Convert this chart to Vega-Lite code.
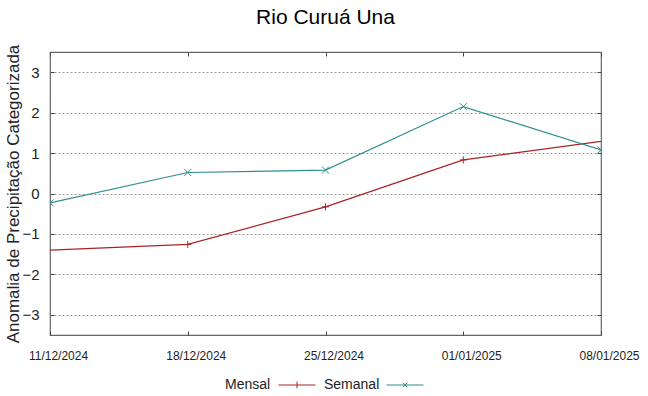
{
  "$schema": "https://vega.github.io/schema/vega-lite/v6.json",
  "autosize": "none",
  "width": 551,
  "height": 283,
  "padding": {"left": 50, "top": 52, "right": 47, "bottom": 61},
  "background": "white",
  "title": {
    "text": "Rio Curuá Una",
    "font": "Liberation Sans",
    "fontSize": 21,
    "fontWeight": "normal",
    "color": "#000",
    "anchor": "middle",
    "offset": 16
  },
  "data": {
    "values": [
      {"data": "2024-12-04", "serie": "Mensal", "valor": -1.54},
      {"data": "2024-12-18", "serie": "Mensal", "valor": -1.26},
      {"data": "2024-12-25", "serie": "Mensal", "valor": -0.33},
      {"data": "2025-01-01", "serie": "Mensal", "valor": 0.83},
      {"data": "2025-01-15", "serie": "Mensal", "valor": 1.75},
      {"data": "2024-12-11", "serie": "Semanal", "valor": -0.23},
      {"data": "2024-12-18", "serie": "Semanal", "valor": 0.52},
      {"data": "2024-12-25", "serie": "Semanal", "valor": 0.58},
      {"data": "2025-01-01", "serie": "Semanal", "valor": 2.15},
      {"data": "2025-01-08", "serie": "Semanal", "valor": 1.08}
    ]
  },
  "layer": [
    {
      "mark": {"type": "line", "clip": true, "strokeWidth": 1.2},
      "encoding": {
        "x": {
          "field": "data", "type": "temporal",
          "scale": {"type": "utc", "domain": [{"year": 2024, "month": 12, "date": 11, "utc": true}, {"year": 2025, "month": 1, "date": 8, "utc": true}], "nice": false},
          "axis": {
            "orient": "bottom", "title": null,
            "labelExpr": "utcFormat(datum.value, '%d/%m/%Y')",
            "values": [{"year": 2024, "month": 12, "date": 11, "utc": true}, {"year": 2024, "month": 12, "date": 18, "utc": true}, {"year": 2024, "month": 12, "date": 25, "utc": true}, {"year": 2025, "month": 1, "date": 1, "utc": true}, {"year": 2025, "month": 1, "date": 8, "utc": true}],
            "grid": false, "domain": false, "tickSize": -4, "tickColor": "#444", "tickWidth": 1,
            "labelFont": "Liberation Sans", "labelFontSize": 12, "labelColor": "#222",
            "labelPadding": 19, "labelOffset": 8, "labelAngle": 0, "labelFlush": false, "labelOverlap": false
          }
        },
        "y": {
          "field": "valor", "type": "quantitative",
          "scale": {"domain": [-3.5, 3.5], "nice": false, "zero": false},
          "axis": {
            "orient": "left", "title": "Anomalia de Precipitação Categorizada",
            "titleFont": "Liberation Sans", "titleFontSize": 17, "titleFontWeight": "normal", "titleColor": "#222",
            "titlePadding": -1,
            "values": [-3, -2, -1, 0, 1, 2, 3],
            "grid": true, "gridDash": [2, 2], "gridColor": "#999", "gridWidth": 1,
            "domain": false, "tickSize": -4, "tickColor": "#444",
            "labelFont": "Liberation Sans", "labelFontSize": 15, "labelColor": "#222", "labelPadding": 15
          }
        },
        "color": {
          "field": "serie", "type": "nominal",
          "scale": {"domain": ["Mensal", "Semanal"], "range": ["#a82424", "#2e8f8f"]},
          "legend": {
            "title": null, "orient": "bottom", "direction": "horizontal",
            "offset": 5,
            "labelFont": "Liberation Sans", "labelFontSize": 14, "labelColor": "#222",
            "labelAlign": "left", "labelOffset": -39,
            "symbolSize": 1369, "symbolStrokeWidth": 1,
            "columnPadding": 6,
            "encode": {
              "symbols": {"update": {
                "shape": {"signal": "datum.value === 'Mensal' ? 'M-1,0L1,0M0,-0.18L0,0.18' : 'M-1,0L1,0M-0.12,-0.12L0.12,0.12M-0.12,0.12L0.12,-0.12'"},
                "x": {"signal": "datum.value === 'Mensal' ? 71 : 80"},
                "fill": {"value": "transparent"}
              }}
            }
          }
        }
      }
    },
    {
      "transform": [{"filter": "datum.serie === 'Mensal'"}],
      "mark": {"type": "point", "clip": true, "filled": false, "size": 49, "strokeWidth": 1, "opacity": 1, "shape": "M-1,0L1,0M0,-1L0,1"},
      "encoding": {
        "x": {
          "field": "data", "type": "temporal",
          "axis": {
            "orient": "top", "title": null, "labels": false, "grid": false, "domain": false,
            "values": [{"year": 2024, "month": 12, "date": 11, "utc": true}, {"year": 2024, "month": 12, "date": 18, "utc": true}, {"year": 2024, "month": 12, "date": 25, "utc": true}, {"year": 2025, "month": 1, "date": 1, "utc": true}, {"year": 2025, "month": 1, "date": 8, "utc": true}],
            "tickSize": -4, "tickColor": "#444"
          }
        },
        "y": {
          "field": "valor", "type": "quantitative",
          "axis": {
            "orient": "right", "title": null, "labels": false, "grid": false, "domain": false,
            "values": [-3, -2, -1, 0, 1, 2, 3], "tickSize": -4, "tickColor": "#444"
          }
        },
        "color": {"field": "serie", "type": "nominal"}
      }
    },
    {
      "transform": [{"filter": "datum.serie === 'Semanal'"}],
      "mark": {"type": "point", "clip": true, "filled": false, "size": 49, "strokeWidth": 1, "opacity": 1, "shape": "M-1,-1L1,1M-1,1L1,-1"},
      "encoding": {
        "x": {"field": "data", "type": "temporal", "axis": null},
        "y": {"field": "valor", "type": "quantitative", "axis": null},
        "color": {"field": "serie", "type": "nominal"}
      }
    }
  ],
  "config": {
    "view": {"stroke": "#666", "strokeWidth": 1.2},
    "legend": {"layout": {"bottom": {"anchor": "middle"}}}
  }
}
